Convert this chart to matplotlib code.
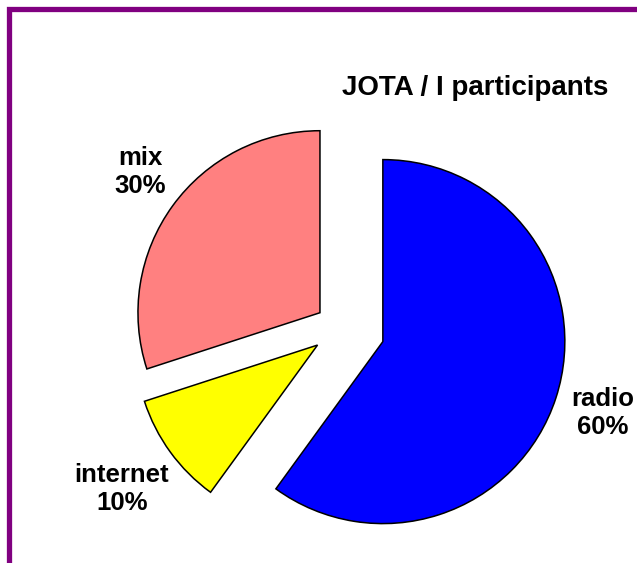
import matplotlib.pyplot as plt
from matplotlib.patches import Rectangle

plt.rcParams['font.family'] = ['Liberation Sans', 'DejaVu Sans']

labels = ["radio", "internet", "mix"]
shares = [60, 10, 30]
colors = ["#0000FF", "#FFFF00", "#FF8080"]
explode = [44, 29, 26]  # pie() takes the offset in data units (pixels here)

fig = plt.figure(figsize=(6.37, 5.63), dpi=100)
ax = fig.add_axes([0, 0, 1, 1])

# purple frame, runs off the right and bottom
ax.add_patch(Rectangle((8.5, -50), 700, 604.5, fill=False,
                       edgecolor="#800080", linewidth=3.8, clip_on=False))

ax.pie(shares, colors=colors, explode=explode, startangle=90, counterclock=False,
       center=(341, 235), radius=182, frame=True,
       wedgeprops=dict(edgecolor="black", linewidth=1.1))
ax.set_xlim(0, 637)
ax.set_ylim(0, 563)
ax.set_aspect('equal')
ax.axis('off')

label_pos = {"radio": (603, 150), "internet": (122, 74), "mix": (140, 391)}
for name, val in zip(labels, shares):
    x, y = label_pos[name]
    ax.text(x, y, f"{name}\n{val}%", ha="center", va="center", fontsize=18.5,
            fontweight="bold", linespacing=1.2)

ax.text(475, 475, "JOTA / I participants", ha="center", va="center",
        fontsize=20, fontweight="bold")

fig.savefig("out.png", dpi=100)
